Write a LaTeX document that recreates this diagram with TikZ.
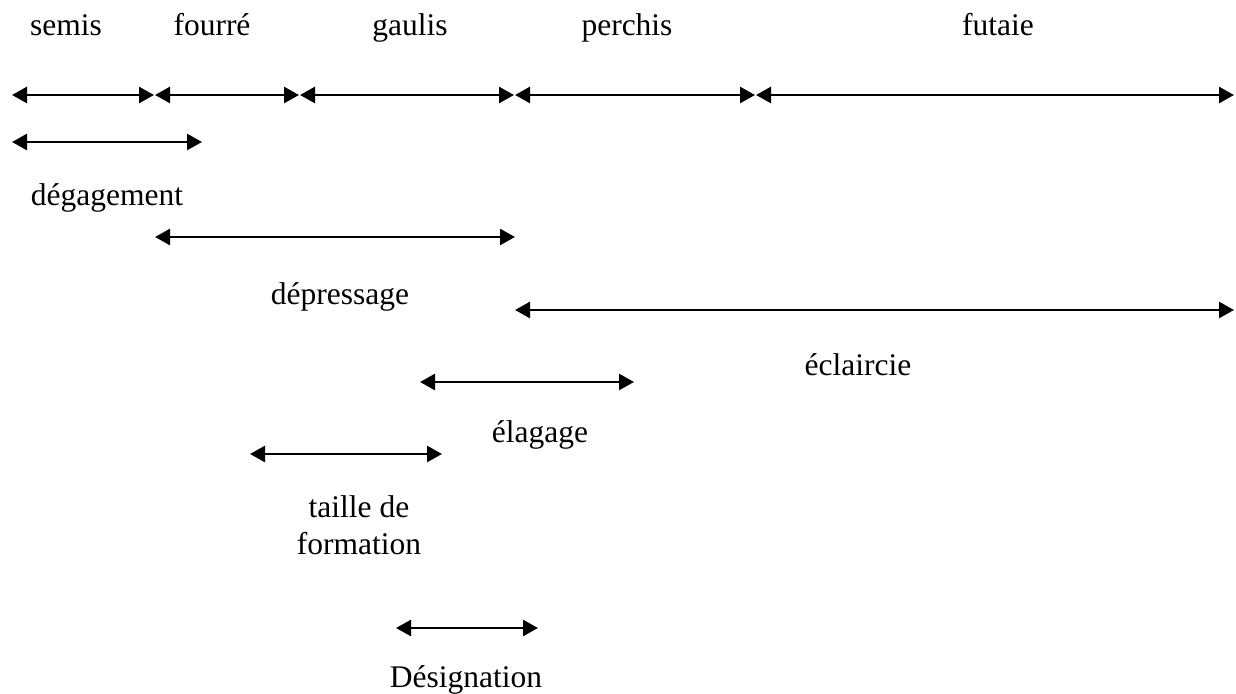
\documentclass[tikz,border=0pt]{standalone}
\usepackage{fontspec}
\setmainfont{Liberation Serif}
\usetikzlibrary{arrows.meta}
\begin{document}
\begin{tikzpicture}[x=1pt,y=-1pt,
  span/.style={line width=2.6pt,{Triangle[length=15pt,width=16pt]}-{Triangle[length=15pt,width=16pt]}},
  lbl/.style={font=\fontsize{31.5}{38}\selectfont,anchor=base,inner sep=0pt}]
\useasboundingbox (0,0) rectangle (1236,693);
% top labels
\node[lbl] (semis) at (66,36) {semis};
\node[lbl] (fourre) at (212,36) {fourré};
\node[lbl] (gaulis) at (410,36) {gaulis};
\node[lbl] (perchis) at (627,36) {perchis};
\node[lbl] (futaie) at (998,36) {futaie};
% row 1
\coordinate (a0) at (12,95);
\coordinate (a1l) at (155,95);
\coordinate (a1r) at (154,95);
\coordinate (a2r) at (299,95);
\coordinate (a2l) at (300,95);
\coordinate (a3r) at (514,95);
\coordinate (a3l) at (515,95);
\coordinate (a4r) at (755,95);
\coordinate (a4l) at (756,95);
\coordinate (a5) at (1234,95);
\draw[span] (a0) -- (a1r);
\draw[span] (a1l) -- (a2r);
\draw[span] (a2l) -- (a3r);
\draw[span] (a3l) -- (a4r);
\draw[span] (a4l) -- (a5);
% degagement
\coordinate (dg1) at (12,142);
\coordinate (dg2) at (202,142);
\draw[span] (dg1) -- (dg2);
\node[lbl] (degagement) at (107,205) {dégagement};
% depressage
\coordinate (dp1) at (155,237);
\coordinate (dp2) at (515,237);
\draw[span] (dp1) -- (dp2);
\node[lbl] (depressage) at (340,304) {dépressage};
% eclaircie
\coordinate (ec1) at (515,310);
\coordinate (ec2) at (1234,310);
\draw[span] (ec1) -- (ec2);
\node[lbl] (eclaircie) at (858,375) {éclaircie};
% elagage
\coordinate (el1) at (420,382);
\coordinate (el2) at (634,382);
\draw[span] (el1) -- (el2);
\node[lbl] (elagage) at (540,442) {élagage};
% taille
\coordinate (tf1) at (250,454);
\coordinate (tf2) at (442,454);
\draw[span] (tf1) -- (tf2);
\node[lbl] (taille) at (359,517) {taille de};
\node[lbl] (formation) at (359,554) {formation};
% designation
\coordinate (ds1) at (396,628);
\coordinate (ds2) at (538,628);
\draw[span] (ds1) -- (ds2);
\node[lbl] (designation) at (466,687) {Désignation};
\end{tikzpicture}
\end{document}
